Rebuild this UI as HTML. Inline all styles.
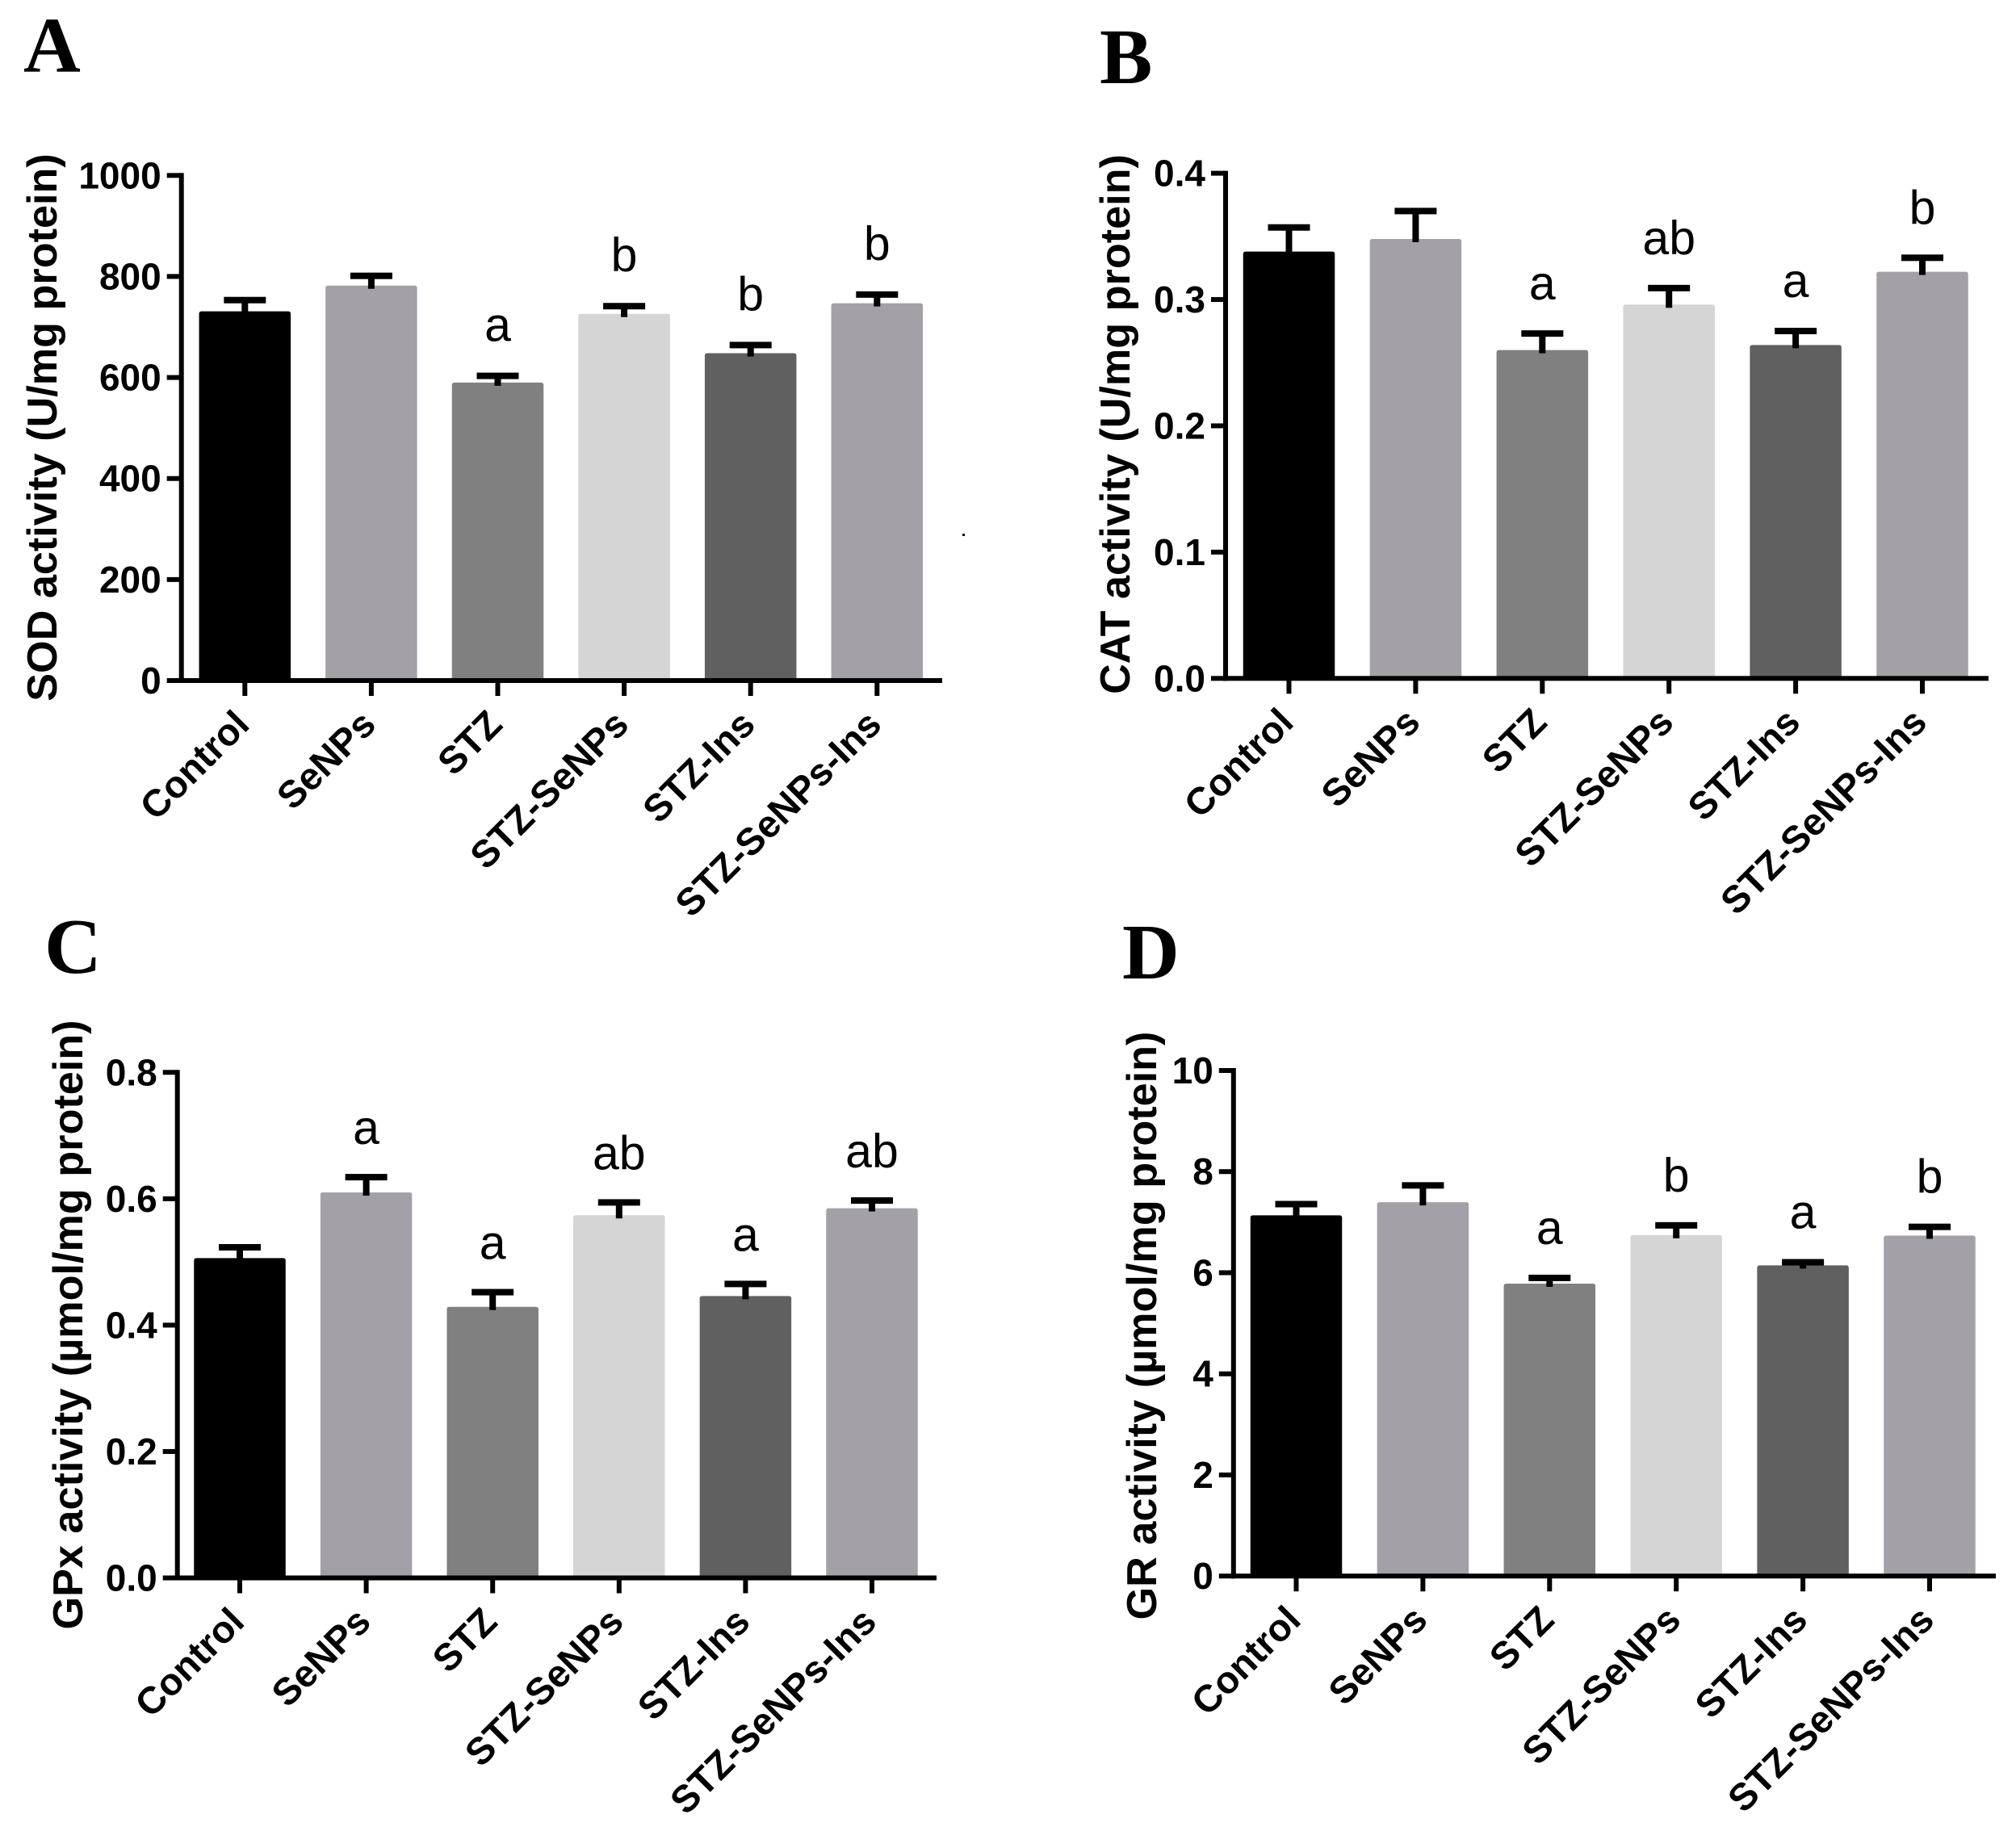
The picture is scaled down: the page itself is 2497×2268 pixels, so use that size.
<!DOCTYPE html>
<html>
<head>
<meta charset="utf-8">
<title>Antioxidant enzyme activity</title>
<style>
html,body{margin:0;padding:0;background:#fff;}
svg{display:block;}
text{font-family:"Liberation Sans",Arial,sans-serif;fill:#000;}
.letter{font-family:"Liberation Serif","Times New Roman",serif;font-weight:700;font-size:98px;}
.tick{font-weight:700;font-size:46px;}
.cat{font-weight:700;font-size:47px;}
.title{font-weight:700;font-size:52.2px;}
.sig{font-size:59px;}
</style>
</head>
<body>
<svg id="fig" xmlns="http://www.w3.org/2000/svg" width="2497" height="2268" viewBox="0 0 2497 2268">
<rect x="0" y="0" width="2497" height="2268" fill="#fff"/>
<rect x="1192" y="661" width="3" height="3" fill="#000"/>
</svg>
<script>
const categories = ["Control","SeNPs","STZ","STZ-SeNPs","STZ-Ins","STZ-SeNPs-Ins"];
const barColors = ["#000000","#a3a1a7","#808080","#d5d5d5","#606060","#a3a1a7"];

const sodValues = [731,782,590,726,648,747];
const sodErrors = [27,24,18,20,21,22];
const sodSig = ["","","a","b","b","b"];
const sodTicks = [0,200,400,600,800,1000];
const sodTickLabels = ["0","200","400","600","800","1000"];

const catValues = [0.338,0.348,0.260,0.296,0.264,0.322];
const catErrors = [0.021,0.024,0.015,0.015,0.013,0.013];
const catSig = ["","","a","ab","a","b"];
const catTicks = [0,0.1,0.2,0.3,0.4];
const catTickLabels = ["0.0","0.1","0.2","0.3","0.4"];

const gpxValues = [0.506,0.610,0.429,0.574,0.446,0.585];
const gpxErrors = [0.021,0.028,0.027,0.024,0.023,0.016];
const gpxSig = ["","a","a","ab","a","ab"];
const gpxTicks = [0,0.2,0.4,0.6,0.8];
const gpxTickLabels = ["0.0","0.2","0.4","0.6","0.8"];

const grValues = [7.135,7.395,5.785,6.745,6.145,6.735];
const grErrors = [0.27,0.38,0.16,0.24,0.11,0.22];
const grSig = ["","","a","b","a","b"];
const grTicks = [0,2,4,6,8,10];
const grTickLabels = ["0","2","4","6","8","10"];

const svg = document.getElementById('fig');
const NS = 'http://www.w3.org/2000/svg';

function mk(tag, attrs, parent){
  const el = document.createElementNS(NS, tag);
  for (const k in attrs) el.setAttribute(k, attrs[k]);
  parent.appendChild(el);
  return el;
}

function drawPanel(p){
  const g = mk('g', {}, svg);
  
  

  const yScale = v => p.base - (v / p.yMax) * (p.base - p.top);
  const xScale = i => p.x0 + i * p.step;

  const letter = mk('text', {x:p.letterX, y:p.letterY, class:'letter'}, g);
  letter.textContent = p.id.toUpperCase();
  
  

  const title = mk('text', {
    x:0, y:0, class:'title', 'text-anchor':'middle',
    transform:'translate(' + p.titleX + ',' + p.titleY + ') rotate(-90)'
  }, g);
  title.textContent = p.title;
  
  

  p.values.forEach((v, i) => {
    const cx = xScale(i), w = 113.5, r = 3;
    const yT = yScale(v);
    const d = 'M' + (cx-w/2) + ' ' + p.base + 'V' + (yT+r) + 'Q' + (cx-w/2) + ' ' + yT + ' ' + (cx-w/2+r) + ' ' + yT +
              'H' + (cx+w/2-r) + 'Q' + (cx+w/2) + ' ' + yT + ' ' + (cx+w/2) + ' ' + (yT+r) + 'V' + p.base + 'Z';
    const bar = mk('path', {d:d, fill:barColors[i]}, g);
    
    

    const yE = yScale(v + p.errors[i]);
    const stem = mk('rect', {x:cx-4, y:yE, width:8, height:yT - yE + 4, fill:'#000'}, g);
    
    
    const cap = mk('rect', {x:cx-26, y:yE-1, width:52, height:8, fill:'#000'}, g);
    
    

    if (p.sig[i]) {
      const s = mk('text', {x:cx, y:yE - p.sigGap, class:'sig', 'text-anchor':'middle'}, g);
      s.textContent = p.sig[i];
      
      
    }

    const tk = mk('rect', {x:cx-3, y:p.base, width:6, height:19, fill:'#000'}, g);
    
    

    const lx = cx + 8, ly = p.base + 57;
    const cl = mk('text', {
      x:0, y:0, class:'cat', 'text-anchor':'end',
      transform:'translate(' + lx + ',' + ly + ') rotate(-45)'
    }, g);
    cl.textContent = categories[i];
    
    
  });

  const yAxis = mk('rect', {x:p.axisX-3, y:p.top-3, width:6, height:p.base-p.top+6, fill:'#000'}, g);
  
  

  const xAxis = mk('rect', {x:p.axisX-3, y:p.base-3, width:p.axisEnd-p.axisX+3, height:6, fill:'#000'}, g);
  
  

  p.ticks.forEach((t, i) => {
    const y = yScale(t);
    const tk = mk('rect', {x:p.axisX-18, y:y-3, width:18, height:6, fill:'#000'}, g);
    
    
    const tl = mk('text', {x:p.axisX-25, y:y+16, class:'tick', 'text-anchor':'end'}, g);
    tl.textContent = p.tickLabels[i];
    
    
  });
}

drawPanel({id:'a', title:'SOD activity (U/mg protein)', values:sodValues, errors:sodErrors, sig:sodSig, ticks:sodTicks, tickLabels:sodTickLabels,
  yMax:1000, top:217.3, base:843, axisX:224.7, axisEnd:1167, x0:303.3, step:156.6, sigGap:40,
  letterX:29, letterY:89, titleX:70, titleY:529.5});
drawPanel({id:'b', title:'CAT activity (U/mg protein)', values:catValues, errors:catErrors, sig:catSig, ticks:catTicks, tickLabels:catTickLabels,
  yMax:0.4, top:214.6, base:840.3, axisX:1518, axisEnd:2463, x0:1596.5, step:156.9, sigGap:39,
  letterX:1362, letterY:103, titleX:1399, titleY:525.5});
drawPanel({id:'c', title:'GPx activity (µmol/mg protein)', values:gpxValues, errors:gpxErrors, sig:gpxSig, ticks:gpxTicks, tickLabels:gpxTickLabels,
  yMax:0.8, top:1328.3, base:1954.5, axisX:219.7, axisEnd:1160, x0:297, step:156.6, sigGap:38,
  letterX:55, letterY:1205, titleX:102, titleY:1641});
drawPanel({id:'d', title:'GR activity (µmol/mg protein)', values:grValues, errors:grErrors, sig:grSig, ticks:grTicks, tickLabels:grTickLabels,
  yMax:10, top:1326, base:1952.2, axisX:1527.8, axisEnd:2472, x0:1605.5, step:156.9, sigGap:39,
  letterX:1390, letterY:1212, titleX:1432, titleY:1642});
</script>
</body>
</html>
